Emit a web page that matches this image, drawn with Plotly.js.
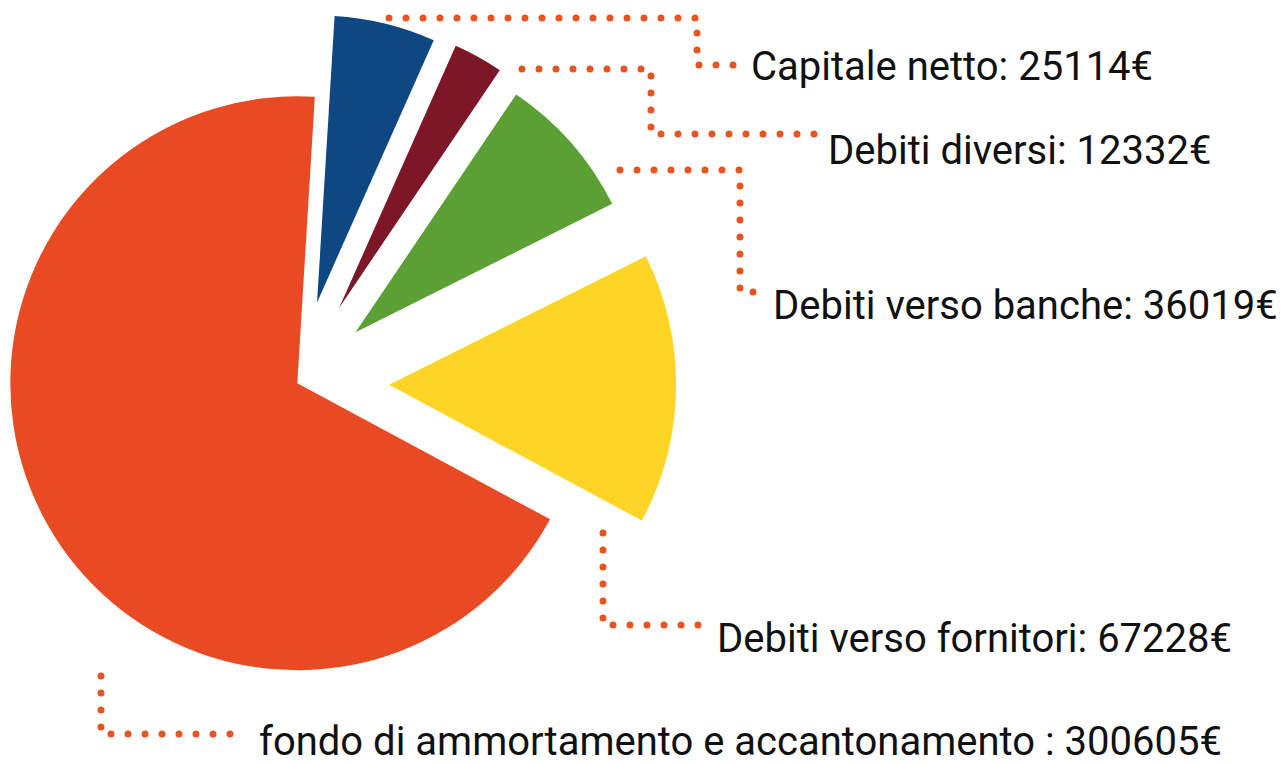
<!DOCTYPE html>
<html>
<head>
<meta charset="utf-8">
<script src="https://cdn.plot.ly/plotly-3.0.1.min.js"></script>
<style>
  html, body { margin: 0; padding: 0; background: #ffffff; overflow: hidden; width: 1285px; height: 766px; }
  #wrap { position: relative; width: 1285px; height: 766px; overflow: hidden; }
  #chart { position: absolute; left: -100px; top: -20px; }
  #chart .shapelayer path { stroke-linecap: round; }
</style>
</head>
<body>
<div id="wrap"><div id="chart"></div></div>
<script>
// ---- data ----
const categories = [
  "Capitale netto",
  "Debiti diversi",
  "Debiti verso banche",
  "Debiti verso fornitori",
  "fondo di ammortamento e accantonamento "
];
const values = [25114, 12332, 36019, 67228, 300605];
const colors = ["#0E4782", "#7D1627", "#5AA034", "#FED425", "#E84B24"];
const pulls = [0.29, 0.30, 0.27, 0.32, 0];

// ---- geometry (page pixels) ----
const OFFX = 100, OFFY = 20;
const W = 1285 + OFFX, H = 766 + OFFY;
const pieCx = 297.3 + OFFX, pieCy = 383.3 + OFFY, pieR = 287;
const maxPull = Math.max(...pulls);
const box = 2 * pieR * (1 + maxPull);
const px = x => (x + OFFX) / W;
const py = y => 1 - (y + OFFY) / H;

// label anchors and leader paths (page px)
const labelPos = [[750, 66], [827, 150], [772, 305], [716, 638], [258, 741]];
const leaders = [
  [[389, 18], [697, 18], [697, 65], [735, 65]],
  [[522, 69], [651, 69], [651, 134], [818, 134]],
  [[620, 170], [740, 170], [740, 292], [770, 292]],
  [[603, 533], [603, 625], [700, 625]],
  [[101, 676], [101, 734], [237, 734]]
];

const trace = {
  type: "pie",
  labels: categories,
  values: values,
  sort: false,
  direction: "clockwise",
  rotation: 3.5,
  pull: pulls,
  marker: { colors: colors, line: { width: 0 } },
  textinfo: "none",
  hoverinfo: "label+value",
  showlegend: false,
  domain: {
    x: [(pieCx - box / 2) / W, (pieCx + box / 2) / W],
    y: [1 - (pieCy + box / 2) / H, 1 - (pieCy - box / 2) / H]
  }
};

const annotations = categories.map((c, i) => ({
  xref: "paper", yref: "paper",
  x: px(labelPos[i][0]), y: py(labelPos[i][1]),
  xanchor: "left", yanchor: "middle",
  text: c + ": " + values[i] + "€",
  showarrow: false,
  borderpad: 0,
  font: { family: "Roboto, sans-serif", size: 40, color: "#111111" }
}));

const shapes = leaders.map(pts => ({
  type: "path",
  xref: "paper", yref: "paper",
  path: pts.map((p, i) => (i ? "L" : "M") + px(p[0]).toFixed(5) + "," + py(p[1]).toFixed(5)).join(" "),
  line: { color: "#E8531F", width: 7, dash: "0px,17px" }
}));

const layout = {
  width: W, height: H,
  margin: { l: 0, r: 0, t: 0, b: 0 },
  paper_bgcolor: "#ffffff",
  plot_bgcolor: "#ffffff",
  showlegend: false,
  annotations: annotations,
  shapes: shapes
};

Plotly.newPlot("chart", [trace], layout, { displayModeBar: false, staticPlot: true });
</script>
</body>
</html>
